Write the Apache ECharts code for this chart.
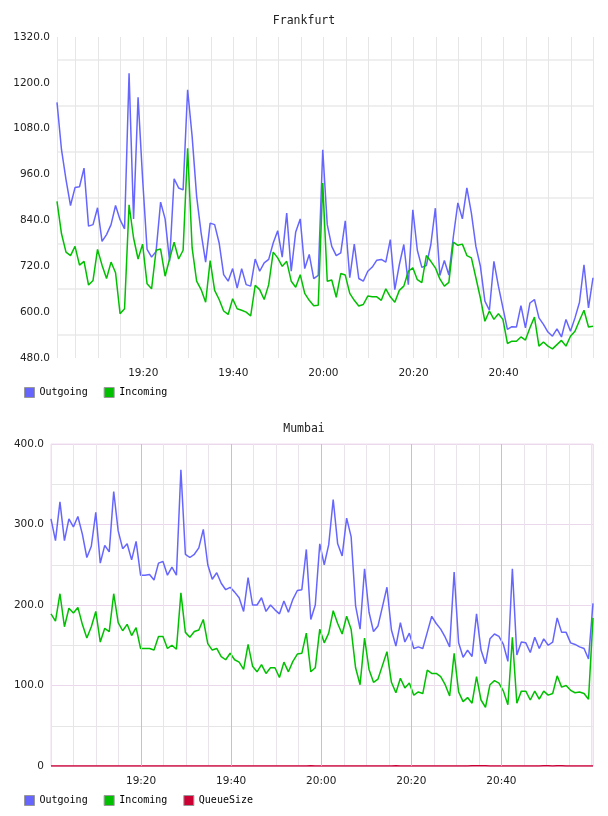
<!DOCTYPE html>
<html>
<head>
<meta charset="utf-8">
<script src="https://cdn.jsdelivr.net/npm/echarts@6/dist/echarts.min.js"></script>
<style>
  body { margin: 0; background: #fff; }
  .chart { width: 608px; height: 408px; }
</style>
</head>
<body>
<div id="frankfurt" class="chart"></div>
<div id="mumbai" class="chart"></div>
<script>
// x tick labels shown (other 5-minute ticks only get a grid line)
const xLabels = ["19:20", "19:40", "20:00", "20:20", "20:40"];

// Frankfurt: one sample a minute starting 19:00:51
const frankfurtStart = new Date(2000, 0, 1, 19, 0, 51).getTime();
const frankfurtStep = 60000;
const frankfurtOutgoing = [
  1149, 1025, 947, 879, 926, 928, 977, 825, 829, 873,
  785, 803, 829, 879, 842, 818, 1225, 844, 1162, 950,
  764, 744, 759, 888, 844, 733, 949, 925, 920, 1182,
  1060, 903, 807, 731, 833, 829, 781, 698, 681, 714,
  663, 714, 672, 668, 739, 707, 729, 738, 781, 813,
  744, 859, 707, 810, 844, 714, 751, 688, 696, 1025,
  829, 772, 748, 755, 839, 690, 778, 688, 681, 707,
  718, 736, 738, 731, 790, 659, 724, 777, 672, 868,
  762, 717, 722, 777, 872, 696, 735, 697, 798, 886,
  844, 925, 859, 772, 720, 629, 605, 733, 668, 611,
  555, 562, 561, 617, 559, 624, 633, 585, 568, 548,
  537, 556, 535, 581, 550, 585, 626, 724, 611, 690
];
const frankfurtIncoming = [
  890, 805, 757, 748, 772, 723, 733, 671, 683, 764,
  723, 688, 731, 703, 596, 609, 881, 794, 739, 778,
  674, 661, 762, 765, 694, 739, 783, 739, 762, 1029,
  768, 681, 659, 626, 735, 657, 633, 603, 594, 635,
  609, 605, 600, 590, 670, 659, 633, 672, 757, 742,
  720, 733, 681, 665, 698, 649, 631, 617, 618, 938,
  681, 684, 639, 701, 697, 649, 631, 616, 620, 642,
  640, 640, 631, 661, 640, 626, 657, 668, 707, 716,
  685, 677, 748, 733, 716, 687, 668, 678, 783, 775,
  778, 748, 742, 690, 637, 576, 603, 581, 596, 581,
  518, 524, 524, 535, 527, 559, 587, 511, 522, 511,
  504, 515, 526, 511, 537, 550, 578, 605, 561, 563
];

// Mumbai: samples starting 19:00:00
const mumbaiStart = new Date(2000, 0, 1, 19, 0, 0).getTime();
const mumbaiStep = 59670;
const mumbaiOutgoing = [
  307, 280, 328, 280, 307, 297, 310, 288, 259, 273,
  315, 252, 274, 266, 341, 292, 270, 276, 256, 279,
  237, 237, 238, 231, 252, 254, 237, 247, 237, 368,
  263, 259, 263, 271, 294, 250, 232, 240, 227, 219,
  222, 216, 209, 192, 234, 200, 200, 209, 192, 200,
  194, 189, 205, 191, 207, 218, 219, 269, 182, 200,
  276, 250, 275, 331, 276, 261, 308, 285, 199, 170,
  245, 191, 167, 174, 198, 222, 169, 149, 178, 154,
  165, 146, 148, 146, 166, 186, 177, 170, 160, 148,
  241, 153, 135, 144, 136, 189, 144, 127, 158, 164,
  161, 151, 130, 245, 138, 154, 153, 141, 160, 146,
  158, 150, 154, 184, 166, 166, 153, 151, 148, 146,
  133, 202
];
const mumbaiIncoming = [
  189, 180, 214, 173, 196, 190, 197, 176, 159, 173,
  192, 154, 171, 167, 214, 178, 168, 176, 162, 172,
  146, 146, 146, 144, 161, 161, 146, 150, 145, 215,
  166, 160, 167, 169, 182, 152, 144, 146, 136, 132,
  140, 132, 129, 120, 151, 124, 117, 126, 115, 122,
  122, 110, 129, 117, 130, 139, 140, 165, 117, 122,
  170, 153, 165, 193, 177, 164, 186, 170, 122, 101,
  159, 120, 104, 108, 125, 142, 104, 91, 109, 97,
  103, 88, 92, 90, 119, 115, 115, 111, 101, 87,
  140, 92, 80, 85, 78, 111, 82, 73, 101, 106,
  103, 93, 76, 160, 78, 93, 93, 82, 93, 83,
  93, 88, 90, 112, 98, 100, 94, 91, 92, 90,
  83, 184
];
const mumbaiQueueSize = [
  0, 0, 0, 0, 0, 0, 0, 0, 0, 0,
  0, 0, 0, 0, 0, 0, 0, 0, 0, 0,
  0, 0, 0, 0, 0, 0, 0, 0, 0, 0,
  0, 0, 0, 0, 0, 0, 0, 0, 0, 0,
  0, 0, 0, 0, 0, 0, 0, 0, 0, 0,
  0, 0, 0, 0, 0, 0, 0, 0, 0.4, 0,
  0, 0, 0, 0, 0, 0, 0, 0, 0, 0,
  0, 0, 0, 0, 0, 0, 0, 0.4, 0, 0,
  0, 0, 0, 0, 0, 0, 0, 0, 0, 0,
  0, 0, 0, 0, 0.4, 0.4, 0.4, 0.4, 0, 0,
  0, 0, 0, 0, 0, 0, 0, 0, 0, 0,
  0.4, 0.4, 0, 0.4, 0.4, 0, 0, 0, 0, 0,
  0, 0
];

const COLORS = { Outgoing: "#6666ff", Incoming: "#00c000", QueueSize: "#cc0033" };
const LABEL_FONT = "DejaVu Sans";
const MONO_FONT = "DejaVu Sans Mono";
// the time scale rounds an interval down to 5 minutes, so ask a bit above
const FIVE_MIN = 330000;

const pad = (n) => String(n).padStart(2, "0");

const timeLabel = (value) => {
  const d = new Date(value);
  const s = pad(d.getHours()) + ":" + pad(d.getMinutes());
  return d.getSeconds() === 0 && xLabels.includes(s) ? s : "";
};

// "19:20" -> timestamp on the same day as the data
const labelTime = (label) => {
  const [h, m] = label.split(":").map(Number);
  return new Date(2000, 0, 1, h, m, 0).getTime();
};

const toPoints = (values, start, step) => values.map((v, i) => [start + i * step, v]);

const makeSeries = (name, values, start, step) => ({
  name: name,
  type: "line",
  data: toPoints(values, start, step),
  showSymbol: false,
  symbol: "none",
  color: COLORS[name],
  lineStyle: { width: 1.5, color: COLORS[name] },
  itemStyle: { color: COLORS[name] },
  animation: false,
});

const baseOptions = (title, series, start, end) => ({
  animation: false,
  title: {
    text: title,
    left: "center",
    top: 15,
    padding: 0,
    textStyle: { fontFamily: MONO_FONT, fontSize: 11.5, fontWeight: "normal", color: "#222" },
  },
  legend: {
    left: 24,
    top: 387,
    padding: 0,
    icon: "rect",
    itemWidth: 10,
    itemHeight: 10,
    itemGap: 16,
    itemStyle: { borderColor: "#999", borderWidth: 1 },
    textStyle: { fontFamily: MONO_FONT, fontSize: 10, color: "#000" },
    data: series.map((s) => s.name),
  },
  xAxis: {
    type: "time",
    min: start,
    max: end,
    minInterval: FIVE_MIN,
    maxInterval: FIVE_MIN,
    axisLine: { show: false },
    axisTick: { show: false },
    axisLabel: {
      formatter: timeLabel,
      margin: 10,
      fontFamily: LABEL_FONT,
      fontSize: 10.5,
      color: "#222",
    },
  },
  series: series,
});

// Frankfurt
const fEnd = frankfurtStart + (frankfurtOutgoing.length - 1) * frankfurtStep;
const frankfurtOptions = baseOptions(
  "Frankfurt",
  [
    makeSeries("Outgoing", frankfurtOutgoing, frankfurtStart, frankfurtStep),
    makeSeries("Incoming", frankfurtIncoming, frankfurtStart, frankfurtStep),
  ],
  frankfurtStart,
  fEnd
);
frankfurtOptions.grid = { left: 57, right: 15, top: 37, bottom: 50 };
frankfurtOptions.xAxis.splitLine = { show: true, lineStyle: { color: "#e6e6e6", width: 1 } };
frankfurtOptions.yAxis = {
  type: "value",
  min: 480,
  max: 1320,
  interval: 60,
  axisLine: { show: false },
  axisTick: { show: false },
  axisLabel: {
    formatter: (v) => ((v - 480) % 120 === 0 ? v.toFixed(1) : ""),
    margin: 7,
    fontFamily: LABEL_FONT,
    fontSize: 10.5,
    color: "#222",
  },
  splitLine: { lineStyle: { color: ["rgba(0,0,0,0)", "#efefef"], width: 2 } },
};

// Mumbai
const mEnd = mumbaiStart + (mumbaiOutgoing.length - 1) * mumbaiStep;
const mumbaiOptions = baseOptions(
  "Mumbai",
  [
    makeSeries("Outgoing", mumbaiOutgoing, mumbaiStart, mumbaiStep),
    makeSeries("Incoming", mumbaiIncoming, mumbaiStart, mumbaiStep),
    makeSeries("QueueSize", mumbaiQueueSize, mumbaiStart, mumbaiStep),
  ],
  mumbaiStart,
  mEnd
);
// darker grid line on each labelled tick, kept under the data lines
mumbaiOptions.series.unshift({
  type: "line",
  data: [],
  z: 1,
  silent: true,
  markLine: {
    silent: true,
    symbol: ["none", "none"],
    label: { show: false },
    lineStyle: { color: "#d4b8d6", width: 1, type: "solid" },
    data: xLabels.map((l) => ({ xAxis: labelTime(l) })),
  },
});
mumbaiOptions.grid = {
  left: 51, right: 15, top: 36, bottom: 50,
  show: true, borderColor: "#f0dcf0", borderWidth: 1,
};
mumbaiOptions.xAxis.splitLine = { show: true, lineStyle: { color: "#ebe3eb", width: 1 } };
mumbaiOptions.yAxis = {
  type: "value",
  min: 0,
  max: 400,
  interval: 50,
  axisLine: { show: false },
  axisTick: { show: false },
  axisLabel: {
    formatter: (v) => (v % 100 === 0 ? (v === 0 ? "0" : v.toFixed(1)) : ""),
    margin: 7,
    fontFamily: LABEL_FONT,
    fontSize: 10.5,
    color: "#222",
  },
  splitLine: { lineStyle: { color: ["#ecd8ec", "#e6e6e6"], width: 1 } },
};

const frankfurtChart = echarts.init(document.getElementById("frankfurt"));
frankfurtChart.setOption(frankfurtOptions);
const mumbaiChart = echarts.init(document.getElementById("mumbai"));
mumbaiChart.setOption(mumbaiOptions);
</script>
</body>
</html>
